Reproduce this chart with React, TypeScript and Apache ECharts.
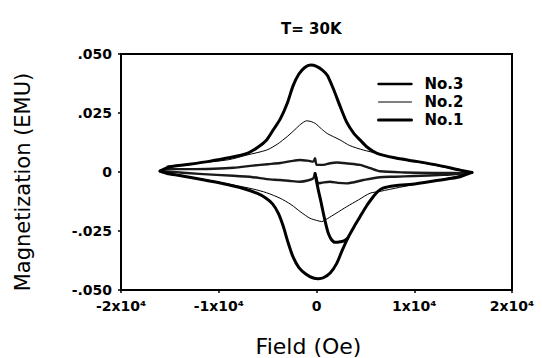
import React, { useEffect, useRef } from "react";
import * as echarts from "echarts";

const titleText = "T= 30K";
const xAxisTitle = "Field (Oe)";
const yAxisTitle = "Magnetization (EMU)";

const xTicks = [-20000, -10000, 0, 10000, 20000];
const xTickLabels = ["-2x10⁴", "-1x10⁴", "0", "1x10⁴", "2x10⁴"];
const yTicks = [-0.05, -0.025, 0, 0.025, 0.05];
const yTickLabels = ["-.050", "-.025", "0", ".025", ".050"];

const legendOrder = ["No.3", "No.2", "No.1"];

// No.1 (thick, large loop)
const no1Upper = [
  [-16000, 0.0004], [-15000, 0.0022], [-13000, 0.0033], [-11000, 0.0045], [-9000, 0.006],
  [-7100, 0.0079], [-6000, 0.0105], [-5100, 0.0136], [-4400, 0.018], [-3700, 0.0225],
  [-3000, 0.029], [-2400, 0.0365], [-1800, 0.0415], [-1200, 0.0443], [-600, 0.0453],
  [0, 0.0448], [600, 0.0432], [1100, 0.041], [1700, 0.0355], [2400, 0.028],
  [3100, 0.021], [3800, 0.0165], [4450, 0.0136], [5200, 0.0105], [6200, 0.0079],
  [8000, 0.006], [10200, 0.0045], [12500, 0.0028], [14700, 0.0008], [15900, -0.0002],
];
const no1Lower = [
  [15900, -0.0002], [14700, -0.002], [12500, -0.0035], [10200, -0.005], [8000, -0.0058],
  [6800, -0.0068], [6200, -0.0085], [5800, -0.0105], [5100, -0.0145], [4450, -0.019],
  [3800, -0.0235], [3200, -0.028], [2600, -0.0335], [2070, -0.0387], [1400, -0.0428],
  [700, -0.0448], [200, -0.0452], [-400, -0.0448], [-1100, -0.0432], [-1800, -0.0405],
  [-2400, -0.036], [-2900, -0.03], [-3400, -0.023], [-3900, -0.0175], [-4500, -0.0135],
  [-5200, -0.011], [-6100, -0.009], [-7500, -0.007], [-9500, -0.005], [-12000, -0.003],
  [-14000, -0.0015], [-15300, -0.0006], [-16000, 0.0004],
];
const no1Drop = [
  [-150, -0.0006], [184, -0.0076], [450, -0.0125], [700, -0.0175], [950, -0.022],
  [1210, -0.026], [1500, -0.0285], [1890, -0.0298], [2300, -0.0297], [2800, -0.0292],
  [3200, -0.028],
];

// No.2 (thin loop)
const no2Upper = [
  [-15300, 0.0025], [-12000, 0.0038], [-9000, 0.0052], [-7100, 0.0072], [-5100, 0.0093],
  [-4000, 0.0118], [-3000, 0.015], [-2200, 0.018], [-1600, 0.0203], [-1000, 0.0217],
  [-500, 0.0213], [-100, 0.0205], [500, 0.0183], [1100, 0.0163], [2400, 0.0136],
  [3400, 0.0112], [4800, 0.0093], [6200, 0.0079], [8000, 0.0058], [11000, 0.0037],
  [14000, 0.0012], [15600, -0.0003],
];
const no2Lower = [
  [15600, -0.0003], [14000, -0.0022], [11000, -0.0045], [8500, -0.0065], [6500, -0.0082],
  [5470, -0.009], [4300, -0.0118], [3090, -0.0147], [2000, -0.0175], [1100, -0.0198],
  [530, -0.021], [0, -0.0205], [-665, -0.0196], [-1600, -0.017], [-2600, -0.0138],
  [-3730, -0.0111], [-5100, -0.0088], [-6500, -0.0072], [-8500, -0.0055], [-11000, -0.0035],
  [-13500, -0.0018], [-15300, 0.0001],
];

// No.3 (small loop)
const no3Upper = [
  [-15600, 0.0012], [-13000, 0.0012], [-10500, 0.0014], [-8500, 0.0018], [-6500, 0.0027],
  [-5000, 0.0033], [-3700, 0.0038], [-2600, 0.0046], [-1700, 0.0051], [-900, 0.0048],
  [-330, 0.0044], [-150, 0.0058], [20, 0.003], [700, 0.003], [1400, 0.0037],
  [2100, 0.004], [3200, 0.0036], [4450, 0.003], [5500, 0.0016], [6500, 0.0003],
  [9000, -0.0002], [12000, -0.0004], [15600, -0.0005],
];
const no3Lower = [
  [15600, -0.0005], [13000, -0.0012], [10000, -0.0017], [8000, -0.002], [6500, -0.0022],
  [4790, -0.0034], [3090, -0.0048], [2200, -0.0046], [1380, -0.0041], [600, -0.0045],
  [184, -0.0048], [-150, -0.0006], [-330, -0.0027], [-900, -0.0036], [-1690, -0.0041],
  [-2700, -0.0038], [-3730, -0.0034], [-5100, -0.003], [-6500, -0.0022], [-8500, -0.0016],
  [-12000, -0.0008], [-15600, 0.0003],
];

const FONT = "DejaVu Sans";
const S1W = 3;
const S2W = 1;
const S3W = 2.4;

function labelFor(ticks: number[], labels: string[], v: number) {
  const i = ticks.findIndex((t) => Math.abs(t - v) < 1e-9 * Math.max(1, Math.abs(t)) + 1e-9);
  return i >= 0 ? labels[i] : "";
}

export default function App() {
  const ref = useRef<HTMLDivElement>(null);
  useEffect(() => {
    if (!ref.current) return;
    const chart = echarts.init(ref.current, undefined, { renderer: "svg" });
    const mk = (name: string, data: number[][], width: number, color: string) => ({
      type: "line",
      name,
      data,
      showSymbol: false,
      symbol: "none",
      smooth: 0.25,
      lineStyle: { width, color, join: "round", cap: "round" },
      itemStyle: { color },
      z: 3,
    });
    const widthOf: Record<string, number> = { "No.1": S1W, "No.2": S2W, "No.3": S3W };
    chart.setOption({
      animation: false,
      backgroundColor: "#ffffff",
      title: {
        text: titleText,
        left: 276,
        top: 16,
        textStyle: { fontFamily: FONT, fontSize: 15, fontWeight: "bold", color: "#000" },
      },
      legend: {
        data: legendOrder.map((n) => ({
          name: n,
          itemStyle: { opacity: 0, borderWidth: 0 },
          lineStyle: { width: widthOf[n], color: "#000" },
        })),
        orient: "vertical",
        left: 372,
        top: 70,
        itemWidth: 33,
        itemHeight: 18,
        itemGap: 0,
        itemStyle: { opacity: 0, borderWidth: 0 },
        textStyle: {
          fontFamily: FONT,
          fontSize: 15,
          lineHeight: 18,
          fontWeight: "bold",
          color: "#000",
          padding: [0, 0, 0, 8],
        },
      },
      grid: {
        left: 121,
        right: 30,
        top: 54,
        bottom: 68,
        outerBoundsMode: "none",
        containLabel: false,
        show: true,
        borderColor: "#000",
        borderWidth: 2,
        backgroundColor: "transparent",
      },
      xAxis: {
        type: "value",
        min: -20000,
        max: 20000,
        interval: 10000,
        name: xAxisTitle,
        nameLocation: "middle",
        nameGap: 45,
        nameTextStyle: { fontFamily: FONT, fontSize: 22, color: "#000", padding: [0, 16, 0, 0] },
        axisLine: { show: true, onZero: false, lineStyle: { color: "#000", width: 2 } },
        axisTick: { show: true, length: 3, lineStyle: { color: "#000", width: 1.5 } },
        splitLine: { show: false },
        axisLabel: {
          margin: 9,
          fontFamily: FONT,
          fontSize: 14,
          fontWeight: "bold",
          color: "#000",
          formatter: (v: number) => labelFor(xTicks, xTickLabels, v),
        },
      },
      yAxis: {
        type: "value",
        min: -0.05,
        max: 0.05,
        interval: 0.025,
        name: yAxisTitle,
        nameLocation: "middle",
        nameGap: 88,
        nameRotate: 90,
        nameTextStyle: { fontFamily: FONT, fontSize: 21, color: "#000", padding: [0, 20, 0, 0] },
        axisLine: { show: true, onZero: false, lineStyle: { color: "#000", width: 2 } },
        axisTick: { show: true, length: 3, lineStyle: { color: "#000", width: 1.5 } },
        splitLine: { show: false },
        axisLabel: {
          margin: 9,
          fontFamily: FONT,
          fontSize: 14,
          fontWeight: "bold",
          color: "#000",
          formatter: (v: number) => labelFor(yTicks, yTickLabels, v),
        },
      },
      series: [
        mk("No.3", no3Upper, S3W, "#1a1a1a"),
        mk("No.3", no3Lower, S3W, "#1a1a1a"),
        mk("No.2", no2Upper, S2W, "#000"),
        mk("No.2", no2Lower, S2W, "#000"),
        mk("No.1", no1Upper, S1W, "#000"),
        mk("No.1", no1Lower, S1W, "#000"),
        mk("No.1", no1Drop, S1W, "#000"),
      ],
    });
    return () => chart.dispose();
  }, []);
  return <div ref={ref} style={{ width: 542, height: 358, position: "absolute", left: 0, top: 0 }} />;
}
